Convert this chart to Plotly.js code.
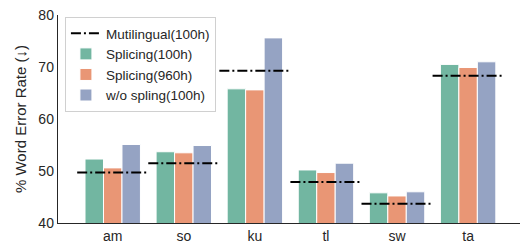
<!DOCTYPE html>
<html><head><meta charset="utf-8">
<script src="https://cdn.plot.ly/plotly-3.0.1.min.js"></script>
<style>html,body{margin:0;padding:0;background:#fff}#chart{width:520px;height:248px}</style>
</head><body><div id="chart"></div>
<script>
const categories = ["am", "so", "ku", "tl", "sw", "ta"];
const multilingual100h = [49.7, 51.5, 69.3, 47.9, 43.7, 68.3];
const splicing100h = [52.3, 53.7, 65.8, 50.2, 45.8, 70.5];
const splicing960h = [50.6, 53.5, 65.6, 49.7, 45.2, 69.9];
const woSpling100h = [55.1, 54.9, 75.6, 51.5, 46.0, 71.0];
const yTicks = [40, 50, 60, 70, 80];

const idx = categories.map((c, i) => i);
const lineX = [], lineY = [];
idx.forEach(i => { lineX.push(i - 0.5, i + 0.5, null); lineY.push(multilingual100h[i], multilingual100h[i], null); });

const fam = "Liberation Sans, Arial, sans-serif";
const tickFont = {family: fam, size: 14, color: "#262626"};
const legFont = {family: fam, size: 13.5, color: "#262626"};
const titleFont = {family: fam, size: 15, color: "#262626"};
const barLine = {color: "#ffffff", width: 1};
const traces = [
  {type: "scatter", mode: "lines", name: "Mutilingual(100h)", x: lineX, y: lineY,
   line: {color: "#000000", width: 2, dash: "10px,3px,2px,3px"}, connectgaps: false},
  {type: "bar", name: "Splicing(100h)", x: idx, y: splicing100h, marker: {color: "#72b6a1", line: barLine}},
  {type: "bar", name: "Splicing(960h)", x: idx, y: splicing960h, marker: {color: "#e99675", line: barLine}},
  {type: "bar", name: "w/o spling(100h)", x: idx, y: woSpling100h, marker: {color: "#95a3c3", line: barLine}}
];
const layout = {
  width: 520, height: 248,
  margin: {l: 58, r: 0, t: 15, b: 25},
  paper_bgcolor: "#fff", plot_bgcolor: "#fff",
  font: tickFont,
  barmode: "group", bargap: 0.22, bargroupgap: 0,
  showlegend: true,
  legend: {x: 0.015, y: 0.99, xanchor: "left", yanchor: "top", bgcolor: "#ffffff",
           bordercolor: "#d0d0d0", borderwidth: 1, font: legFont, traceorder: "normal",
           tracegroupgap: 0, itemwidth: 30},
  xaxis: {range: [-0.77, 5.73], tickvals: idx, ticktext: categories, showgrid: false, zeroline: false,
          showline: true, linecolor: "#262626", linewidth: 1.25, ticks: "", tickfont: tickFont, fixedrange: true},
  yaxis: {range: [40, 80], tickvals: yTicks, showgrid: false, zeroline: false, showline: true,
          linecolor: "#262626", linewidth: 1.25, ticks: "", tickfont: tickFont,
          title: {text: "% Word Error Rate (↓)", font: titleFont, standoff: 8}}
};
Plotly.newPlot("chart", traces, layout, {displayModeBar: false, staticPlot: true});
</script></body></html>
